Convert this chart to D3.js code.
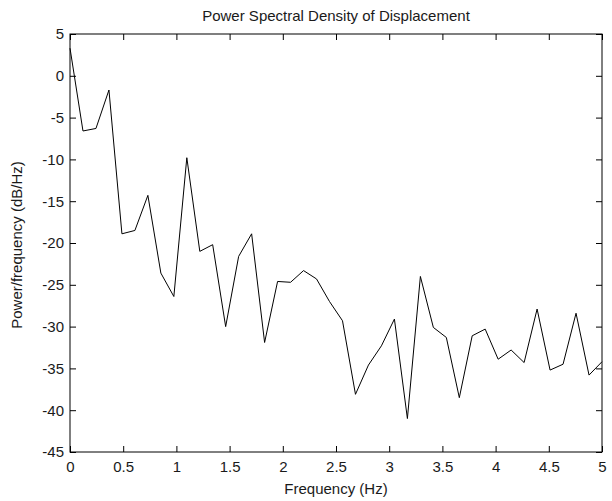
<!DOCTYPE html>
<html>
<head>
<meta charset="utf-8">
<script src="https://cdn.jsdelivr.net/npm/d3@7"></script>
<style>
  body { margin: 0; background: #fff; }
  text { font-family: "Liberation Sans", Arial, sans-serif; }
</style>
</head>
<body>
<svg id="chart" width="612" height="501"></svg>
<script>
const frequency = [0, 0.122, 0.244, 0.366, 0.488, 0.610, 0.732, 0.854, 0.976, 1.098,
  1.220, 1.341, 1.463, 1.585, 1.707, 1.829, 1.951, 2.073, 2.195, 2.317,
  2.439, 2.561, 2.683, 2.805, 2.927, 3.049, 3.171, 3.293, 3.415, 3.537,
  3.659, 3.780, 3.902, 4.024, 4.146, 4.268, 4.390, 4.512, 4.634, 4.756,
  4.878, 5.0];
const psd = [3.3, -6.6, -6.3, -1.7, -18.9, -18.5, -14.3, -23.6, -26.4, -9.8,
  -21.0, -20.2, -30.0, -21.6, -18.9, -31.9, -24.6, -24.7, -23.3, -24.3,
  -27.0, -29.3, -38.1, -34.6, -32.3, -29.1, -41.0, -24.0, -30.1, -31.3,
  -38.5, -31.1, -30.3, -33.9, -32.8, -34.3, -27.9, -35.2, -34.5, -28.4,
  -35.8, -34.2];
const xTicks = [0, 0.5, 1, 1.5, 2, 2.5, 3, 3.5, 4, 4.5, 5];
const yTicks = [5, 0, -5, -10, -15, -20, -25, -30, -35, -40, -45];
const title = "Power Spectral Density of Displacement";
const xLabel = "Frequency (Hz)";
const yLabel = "Power/frequency (dB/Hz)";

const mL = 70, mR = 602, mT = 34, mB = 452;
const FS = "15px";
const svg = d3.select("#chart");
const x = d3.scaleLinear().domain([0, 5]).range([mL, mR]);
const y = d3.scaleLinear().domain([-45, 5]).range([mB, mT]);

svg.append("rect").attr("width", 612).attr("height", 501).attr("fill", "#fff");

const fmt = d => String(d);
const tickLen = 6;

function styleAxis(g) {
  g.select(".domain").remove();
  g.selectAll(".tick line").attr("stroke", "#000").attr("stroke-width", 1);
  g.selectAll(".tick text").attr("fill", "#1a1a1a").style("font-size", FS)
    .style("font-family", "'Liberation Sans', Arial, sans-serif");
}

svg.append("g").attr("transform", `translate(0,${mB})`)
  .call(d3.axisBottom(x).tickValues(xTicks).tickFormat(fmt).tickSizeInner(-tickLen).tickSizeOuter(0).tickPadding(9))
  .call(styleAxis);
svg.append("g").attr("transform", `translate(0,${mT})`)
  .call(d3.axisTop(x).tickValues(xTicks).tickFormat("").tickSizeInner(-tickLen).tickSizeOuter(0))
  .call(styleAxis);
svg.append("g").attr("transform", `translate(${mL},0)`)
  .call(d3.axisLeft(y).tickValues(yTicks).tickFormat(fmt).tickSizeInner(-tickLen).tickSizeOuter(0).tickPadding(6))
  .call(styleAxis);
svg.append("g").attr("transform", `translate(${mR},0)`)
  .call(d3.axisRight(y).tickValues(yTicks).tickFormat("").tickSizeInner(-tickLen).tickSizeOuter(0))
  .call(styleAxis);

svg.append("rect")
  .attr("x", mL).attr("y", mT)
  .attr("width", mR - mL).attr("height", mB - mT)
  .attr("fill", "none").attr("stroke", "#000").attr("stroke-width", 1);

const line = d3.line().x((d, i) => x(frequency[i])).y(d => y(d));
svg.append("path").datum(psd)
  .attr("d", line)
  .attr("fill", "none").attr("stroke", "#000").attr("stroke-width", 1);

svg.append("text").attr("x", 336).attr("y", 21).attr("text-anchor", "middle")
  .style("font-size", FS).attr("fill", "#1a1a1a").text(title);
svg.append("text").attr("x", 336).attr("y", 494).attr("text-anchor", "middle")
  .style("font-size", FS).attr("fill", "#1a1a1a").text(xLabel);
svg.append("text").attr("transform", `translate(22,245) rotate(-90)`).attr("text-anchor", "middle")
  .style("font-size", FS).attr("fill", "#1a1a1a").text(yLabel);
</script>
</body>
</html>
